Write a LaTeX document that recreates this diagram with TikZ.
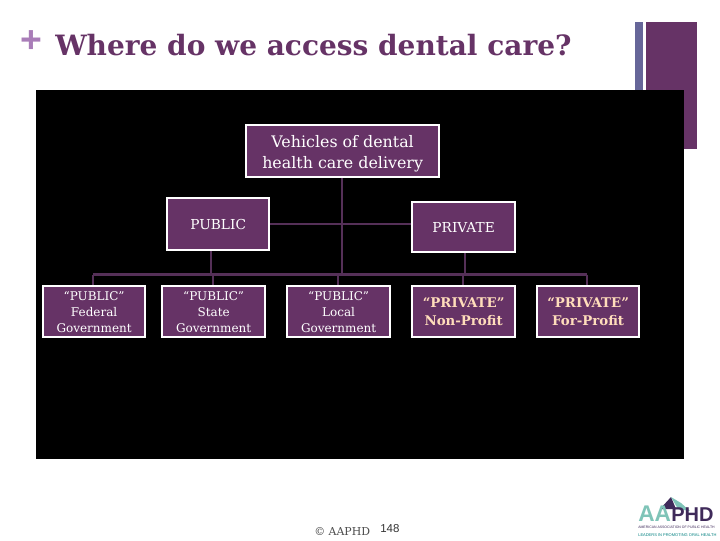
\documentclass[tikz,border=0pt]{standalone}
\usepackage{fontspec}
\setmainfont{DejaVu Serif}
\newfontfamily\sansf{Liberation Sans}
\definecolor{plum}{HTML}{663366}
\definecolor{lineplum}{HTML}{553058}
\definecolor{barblue}{HTML}{666699}
\definecolor{lilac}{HTML}{A97DB8}
\definecolor{peach}{HTML}{FFDDBB}
\definecolor{tealc}{HTML}{7FC4B8}
\definecolor{logop}{HTML}{3F2A5A}
\tikzset{
  orgbox/.style={draw=white,line width=1.7pt,fill=plum,text=white,align=center,inner sep=0pt,anchor=north west},
  link/.style={draw=lineplum,line width=2pt},
  topfont/.style={font=\fontsize{11.9}{15.75}\selectfont},
  midfont/.style={font=\fontsize{10.3}{12}\selectfont},
  pubfont/.style={font=\fontsize{9}{12}\selectfont},
  prifont/.style={font=\bfseries\fontsize{10}{13.5}\selectfont,text=peach},
  tinytext/.style={inner sep=0pt,anchor=west}
}
\newcommand{\bx}[6]{\node[orgbox,minimum width=#3*0.75pt,minimum height=#4*0.75pt,#6] (#1) at (#2) {#5};}
\begin{document}
\begin{tikzpicture}[x=0.75pt,y=-0.75pt]
\useasboundingbox (0,0) rectangle (720,540);
\fill[white] (0,0) rectangle (720,540);
\fill[barblue] (635,22) rectangle (643,100);
\fill[plum] (646,22) rectangle (697,149);
\fill[black] (36,90) rectangle (684,459);
\node[text=lilac,font=\sansf\bfseries\fontsize{28}{28}\selectfont,inner sep=0pt] (plus) at (31,42) {+};
\node[text=plum,anchor=west,inner sep=0pt,font=\bfseries\fontsize{21}{24}\selectfont] (title) at (55,45) {Where do we access dental care?};
\coordinate (busL) at (93,274.5);
\coordinate (busR) at (587,274.5);
\bx{veh}{245,124}{193}{52}{\rule{0pt}{12.5pt}Vehicles of dental\\health care delivery}{topfont}
\bx{pub}{166,197}{102}{52}{PUBLIC}{midfont}
\bx{pri}{411,201}{103}{50}{PRIVATE}{midfont}
\bx{fed}{42,285}{102}{51}{``PUBLIC''\\Federal\\Government}{pubfont}
\bx{sta}{161,285}{103}{51}{``PUBLIC''\\State\\Government}{pubfont}
\bx{loc}{286,285}{103}{51}{``PUBLIC''\\Local\\Government}{pubfont}
\bx{non}{411,285}{103}{51}{``PRIVATE''\\Non-Profit}{prifont}
\bx{for}{536,285}{102}{51}{``PRIVATE''\\For-Profit}{prifont}
\draw[link] (342,0 |- veh.south) -- (342,274.5);
\draw[link] (pub.east) -- (pri.west |- pub.east);
\draw[link] (211,0 |- pub.south) -- (211,274.5);
\draw[link] (465,0 |- pri.south) -- (465,274.5);
\draw[link] (busL) -- (busR);
\draw[link] (busL) -- (93,0 |- fed.north);
\draw[link] (213,274.5) -- (213,0 |- sta.north);
\draw[link] (338,274.5) -- (338,0 |- loc.north);
\draw[link] (463,274.5) -- (463,0 |- non.north);
\draw[link] (busR) -- (587,0 |- for.north);
\node[text=black!70,anchor=west,inner sep=0pt,font=\fontsize{8.2}{10}\selectfont] (aaphd) at (314,532) {© AAPHD};
\node[text=black!80,anchor=west,inner sep=0pt,font=\sansf\fontsize{8.6}{10}\selectfont] (num) at (380,529) {148};
% logo
\fill[logop] (660,509) -- (671,497) -- (676,509) -- cycle;
\fill[tealc] (671,497) -- (681,503) -- (690,511) -- (678,509) -- cycle;
\node[text=tealc,font=\sansf\bfseries\fontsize{17}{15}\selectfont,inner sep=0pt,anchor=west] (logoA) at (638,514) {AA};
\node[text=logop,font=\sansf\bfseries\fontsize{15}{15}\selectfont,inner sep=0pt,anchor=west] (logoB) at (671,515) {PHD};
\node[tinytext,text=logop,font=\sansf\fontsize{2.6}{3}\selectfont] (logoC) at (638,527) {AMERICAN ASSOCIATION OF PUBLIC HEALTH};
\node[tinytext,text=teal,font=\sansf\fontsize{3}{4}\selectfont] (logoD) at (638,535) {LEADERS IN PROMOTING ORAL HEALTH};
\end{tikzpicture}
\end{document}
